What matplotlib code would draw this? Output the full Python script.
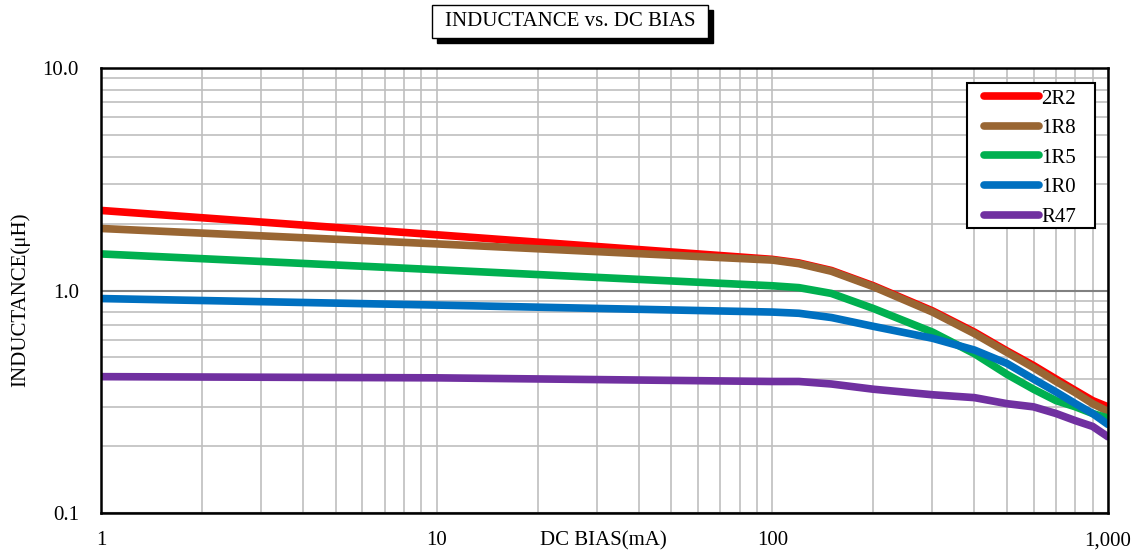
import matplotlib
matplotlib.use("Agg")
import matplotlib.pyplot as plt
from matplotlib.patches import Rectangle
from matplotlib.ticker import FixedLocator, NullFormatter, LogLocator

plt.rcParams['font.family'] = ['Liberation Serif', 'DejaVu Serif']

bias_ma = [1, 10, 100, 120, 150, 200, 300, 400, 500, 600, 700, 800, 900, 1000]
series_names = ["2R2", "1R8", "1R5", "1R0", "R47"]
l_2r2 = [2.29, 1.78, 1.38, 1.33, 1.23, 1.05, 0.81, 0.65, 0.535, 0.46, 0.40, 0.355, 0.32, 0.30]
l_1r8 = [1.90, 1.62, 1.37, 1.32, 1.22, 1.04, 0.80, 0.64, 0.527, 0.45, 0.39, 0.347, 0.31, 0.286]
l_1r5 = [1.46, 1.24, 1.05, 1.03, 0.97, 0.83, 0.65, 0.52, 0.42, 0.36, 0.32, 0.30, 0.28, 0.267]
l_1r0 = [0.92, 0.86, 0.80, 0.79, 0.756, 0.69, 0.61, 0.54, 0.47, 0.40, 0.35, 0.31, 0.28, 0.25]
l_r47 = [0.41, 0.405, 0.39, 0.39, 0.38, 0.36, 0.34, 0.33, 0.31, 0.30, 0.28, 0.26, 0.245, 0.22]
colors = ["#FF0000", "#996633", "#00B050", "#0070C0", "#7030A0"]
x_ticks = [1, 10, 100, 1000]
x_tick_labels = ["1", "10", "100", "1,000"]
y_ticks = [0.1, 1, 10]
y_tick_labels = ["0.1", "1.0", "10.0"]

W, H = 1139, 558
fig = plt.figure(figsize=(W / 100, H / 100), dpi=100)
L, R, T, B = 101, 1108, 68, 513
ax = fig.add_axes([L / W, (H - B) / H, (R - L) / W, (B - T) / H])

for vals, name, c in zip([l_2r2, l_1r8, l_1r5, l_1r0, l_r47], series_names, colors):
    ax.plot(bias_ma, vals, color=c, lw=5.5, label=name,
            solid_capstyle='round', solid_joinstyle='round')

ax.set_xscale('log')
ax.set_yscale('log')
ax.set_xlim(1, 1000)
ax.set_ylim(0.1, 10)

ax.xaxis.set_major_locator(FixedLocator(x_ticks))
ax.set_xticklabels(x_tick_labels)
ax.yaxis.set_major_locator(FixedLocator(y_ticks))
ax.set_yticklabels(y_tick_labels)
ax.xaxis.set_minor_locator(LogLocator(base=10, subs=range(2, 10)))
ax.yaxis.set_minor_locator(LogLocator(base=10, subs=range(2, 10)))
ax.xaxis.set_minor_formatter(NullFormatter())
ax.yaxis.set_minor_formatter(NullFormatter())
ax.tick_params(which='both', length=0, labelsize=15)
ax.tick_params(axis='x', pad=13)
ax.tick_params(axis='y', pad=16)

ax.grid(which='minor', axis='both', color='#bfbfbf', lw=1.2, zorder=0)
ax.grid(which='major', axis='x', color='#bfbfbf', lw=1.2, zorder=0)
ax.grid(which='major', axis='y', color='#808080', lw=1.5, zorder=0)
ax.set_axisbelow(True)

for s in ax.spines.values():
    s.set_color('black')
    s.set_linewidth(1.8)

fig.text(603 / W, 1 - 541 / H, "DC BIAS(mA)", ha='center', va='center', fontsize=15)
fig.text(20 / W, 1 - 300 / H, "INDUCTANCE(μH)", ha='center', va='center',
         rotation=90, fontsize=15)

# title box with shadow
fig.patches.append(Rectangle((437 / W, 1 - 43 / H), 276 / W, 33 / H,
                             transform=fig.transFigure, facecolor='black',
                             edgecolor='black', zorder=1))
fig.patches.append(Rectangle((432 / W, 1 - 38 / H), 276 / W, 33 / H,
                             transform=fig.transFigure, facecolor='white',
                             edgecolor='black', lw=1.0, zorder=2))
fig.text(570 / W, 1 - 21 / H, "INDUCTANCE vs. DC BIAS", ha='center', va='center',
         fontsize=15, zorder=3)

# legend box
ax.add_patch(Rectangle((967 / W, 1 - 228 / H), 128 / W, 145 / H,
                       transform=fig.transFigure, facecolor='white',
                       edgecolor='black', lw=1.5, zorder=4.5, clip_on=False))
leg = ax.legend(loc='upper left', bbox_to_anchor=(984 / W, 1 - 89 / H),
                bbox_transform=fig.transFigure,
                borderaxespad=0, borderpad=0, fontsize=15, handlelength=2.65,
                handletextpad=0.1, labelspacing=0.48,
                frameon=False)
leg.set_zorder(5)

fig.savefig("out.png", dpi=100)
